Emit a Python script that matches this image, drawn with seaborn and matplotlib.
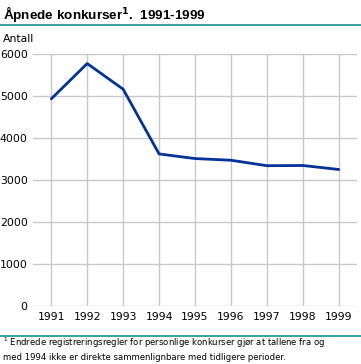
import pandas as pd
import matplotlib.pyplot as plt
import seaborn as sns

years = [1991, 1992, 1993, 1994, 1995, 1996, 1997, 1998, 1999]
antall = [4930, 5770, 5160, 3620, 3510, 3470, 3340, 3345, 3250]
y_ticks = [0, 1000, 2000, 3000, 4000, 5000, 6000]

TEAL = "#14918f"
BLUE = "#003399"

df = pd.DataFrame({"year": years, "antall": antall})

sns.set_style("white")
plt.rcParams["font.family"] = ["DejaVu Sans"]
plt.rcParams["text.color"] = "black"

fig = plt.figure(figsize=(3.61, 3.64), dpi=100)
ax = fig.add_axes([0.0922, 0.159, 0.896, 0.693])

sns.lineplot(data=df, x="year", y="antall", color=BLUE, linewidth=2, ax=ax)

ax.set_xlim(1990.5, 1999.5)
ax.set_ylim(0, 6000)
ax.set_xticks(years)
ax.set_xticklabels([str(y) for y in years])
ax.set_yticks(y_ticks)
ax.grid(True, color="#c8c8c8", linewidth=1)
ax.set_axisbelow(True)
for s in ax.spines.values():
    s.set_visible(False)
ax.tick_params(axis="both", length=0, labelsize=7.8, colors="black")
ax.tick_params(axis="x", pad=4)
ax.tick_params(axis="y", pad=4)
ax.set_xlabel("")
ax.set_ylabel("")

fig.text(0.008, 0.962, "Åpnede konkurser$^{\\mathbf{1}}$.  1991-1999", fontsize=9.7,
         fontweight="bold", family="Liberation Sans", va="center", ha="left")
fig.add_artist(plt.Line2D([0, 1], [0.931, 0.931], color=TEAL, linewidth=1.2))
fig.text(0.008, 0.893, "Antall", fontsize=7.8, va="center", ha="left")

fig.add_artist(plt.Line2D([0, 1], [0.077, 0.077], color=TEAL, linewidth=1.2))
fig.text(0.008, 0.057, "$^1$ Endrede registreringsregler for personlige konkurser gjør at tallene fra og",
         fontsize=6.1, va="center", ha="left")
fig.text(0.008, 0.018, "med 1994 ikke er direkte sammenlignbare med tidligere perioder.",
         fontsize=6.1, va="center", ha="left")

fig.savefig("out.png", dpi=100)
